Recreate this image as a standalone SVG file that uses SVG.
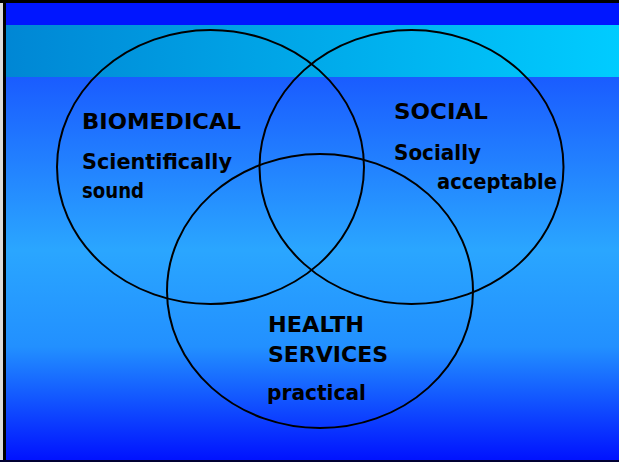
<svg xmlns="http://www.w3.org/2000/svg" width="619" height="462" viewBox="0 0 619 462">
  <defs>
    <linearGradient id="band" x1="0" y1="0" x2="1" y2="0">
      <stop offset="0" stop-color="#0086d4"/>
      <stop offset="1" stop-color="#00ccff"/>
    </linearGradient>
    <linearGradient id="main" x1="0" y1="0" x2="0" y2="1">
      <stop offset="0" stop-color="#1a5cff"/>
      <stop offset="0.45" stop-color="#2aa6ff"/>
      <stop offset="0.7" stop-color="#2290ff"/>
      <stop offset="1" stop-color="#0010ff"/>
    </linearGradient>
    <style>
      .ring { fill: none; stroke: #000; stroke-width: 2; }
      .lbl { font-family: "Comic Sans MS", "DejaVu Sans", "Liberation Sans", sans-serif; font-weight: bold; font-size: 22px; fill: #000; }
    </style>
  </defs>

  <!-- background -->
  <rect x="0" y="0" width="619" height="25" fill="#0016ff"/>
  <rect x="0" y="25" width="619" height="52" fill="url(#band)"/>
  <rect x="0" y="77" width="619" height="385" fill="url(#main)"/>
  <!-- frame -->
  <rect x="0" y="0" width="3" height="462" fill="#dcdcdc"/>
  <rect x="3" y="0" width="3" height="462" fill="#000"/>
  <rect x="0" y="0" width="619" height="3" fill="#000"/>
  <rect x="0" y="460" width="619" height="2" fill="#000033"/>

  <g id="biomedical">
    <ellipse class="ring" cx="210.5" cy="167" rx="153.5" ry="137"/>
    <text class="lbl" x="82" y="129" textLength="159" lengthAdjust="spacingAndGlyphs">BIOMEDICAL</text>
    <text class="lbl" x="82" y="169" textLength="150" lengthAdjust="spacingAndGlyphs">Scientifically</text>
    <text class="lbl" x="82" y="198" textLength="62" lengthAdjust="spacingAndGlyphs">sound</text>
  </g>

  <g id="social">
    <ellipse class="ring" cx="411.5" cy="167" rx="152" ry="137"/>
    <text class="lbl" x="394" y="119" textLength="94" lengthAdjust="spacingAndGlyphs">SOCIAL</text>
    <text class="lbl" x="394" y="160" textLength="87" lengthAdjust="spacingAndGlyphs">Socially</text>
    <text class="lbl" x="437" y="189" textLength="120" lengthAdjust="spacingAndGlyphs">acceptable</text>
  </g>

  <g id="health-services">
    <ellipse class="ring" cx="320" cy="291" rx="153" ry="137"/>
    <text class="lbl" x="268" y="332" textLength="96" lengthAdjust="spacingAndGlyphs">HEALTH</text>
    <text class="lbl" x="268" y="362" textLength="120" lengthAdjust="spacingAndGlyphs">SERVICES</text>
    <text class="lbl" x="267" y="400" textLength="99" lengthAdjust="spacingAndGlyphs">practical</text>
  </g>

  <g id="connectors"/>
</svg>
